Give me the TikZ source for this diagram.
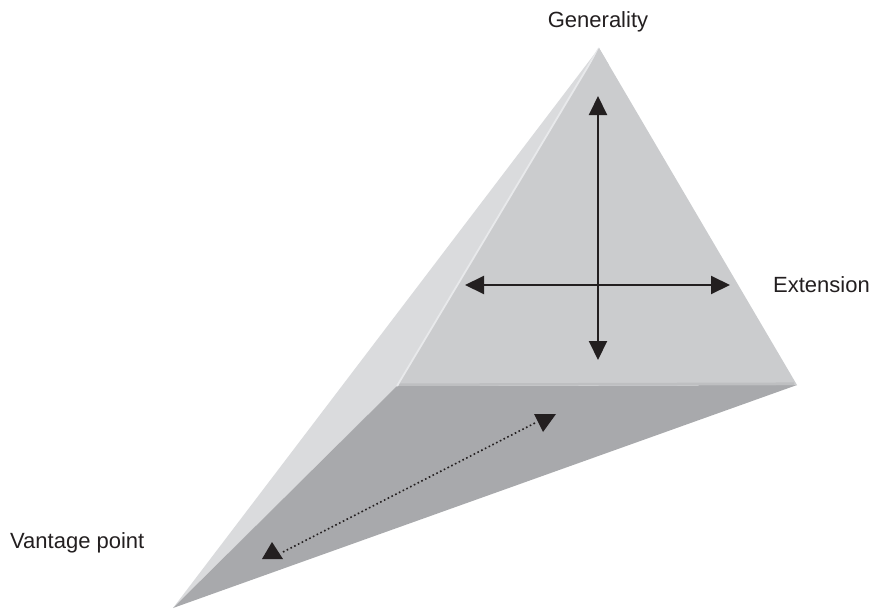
\documentclass[tikz,border=0pt]{standalone}
\usepackage{fontspec}
\setmainfont{Liberation Sans}
\usetikzlibrary{arrows.meta,calc}
\definecolor{frontc}{RGB}{203,204,206}
\definecolor{leftc}{RGB}{218,219,221}
\definecolor{bottomc}{RGB}{168,169,172}
\definecolor{bandc}{RGB}{190,191,193}
\definecolor{hilite}{RGB}{232,233,235}
\definecolor{inkc}{RGB}{35,31,32}
\tikzset{
  lbl/.style={font=\fontsize{22}{26}\selectfont, text=inkc, inner sep=0pt},
  dblarrow/.style={draw=inkc, line width=2pt, {Triangle[length=19pt,width=18pt]}-{Triangle[length=19pt,width=18pt]}},
  dotline/.style={draw=inkc, line width=1.6pt, dash pattern=on 1.6pt off 2.6pt},
  tipc/.style={fill=inkc}
}
\begin{document}
\begin{tikzpicture}[x=1pt,y=-1pt]
\useasboundingbox (0,0) rectangle (870,610);
% pyramid corners
\coordinate (apex) at (599,48);
\coordinate (fl) at (397,386);
\coordinate (fr) at (797,385);
\coordinate (tip) at (173,608);
% faces
\fill[leftc] (apex) -- (fl) -- (tip) -- cycle;
\fill[bottomc] (fl) -- (fr) -- (tip) -- cycle;
\fill[frontc] (apex) -- (fr) -- (fl) -- cycle;
% edge shading
\draw[bandc, line width=2.5pt] ($(fl)+(2,-1.3)$) -- ($(fr)+(-3,-1.3)$);
\draw[hilite, line width=1.8pt] (apex) -- (fl);
\fill[frontc] (apex) -- ($(apex)!0.05!(fl)+(1.5,0)$) -- ($(apex)!0.05!(fr)$) -- cycle;
% labels
\node[lbl] (gen) at (598,22) {Generality};
\node[lbl, anchor=west] (ext) at (773,285) {Extension};
\node[lbl, anchor=west] (van) at (10,543) {Vantage point};
% cross arrows
\coordinate (vt) at (598,96);
\coordinate (vb) at (598,360);
\coordinate (hl) at (465,285);
\coordinate (hr) at (730,285);
\draw[dblarrow] (vt) -- (vb);
\draw[dblarrow] (hl) -- (hr);
% dotted arrow
\coordinate (da) at (283,552);
\coordinate (db) at (535,423);
\draw[dotline] (da) -- (db);
\fill[tipc] (534,414) -- (556,414) -- (543,432) -- cycle;
\fill[tipc] (262,559) -- (283,559) -- (272,542) -- cycle;
\end{tikzpicture}
\end{document}
